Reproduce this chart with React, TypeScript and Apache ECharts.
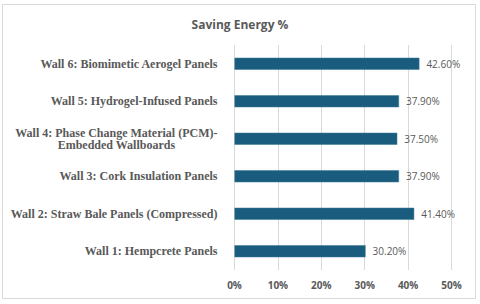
import React, { useEffect, useRef } from "react";
import * as echarts from "echarts";

const categories = [
  "Wall 1: Hempcrete Panels",
  "Wall 2: Straw Bale Panels (Compressed)",
  "Wall 3: Cork Insulation Panels",
  "Wall 4: Phase Change Material (PCM)-\nEmbedded Wallboards",
  "Wall 5: Hydrogel-Infused Panels",
  "Wall 6: Biomimetic Aerogel Panels",
];
const savings = [30.2, 41.4, 37.9, 37.5, 37.9, 42.6];
const chartTitle = "Saving Energy %";

export default function App() {
  const ref = useRef<HTMLDivElement>(null);
  useEffect(() => {
    document.body.style.margin = "0";
    const chart = echarts.init(ref.current!, null, { renderer: "svg" });
    chart.setOption({
      animation: false,
      backgroundColor: "#ffffff",
      title: {
        text: chartTitle,
        left: "center",
        top: 13,
        textStyle: {
          fontFamily: "Open Sans",
          fontSize: 12,
          fontWeight: "bold",
          color: "#595959",
        },
      },
      graphic: [
        {
          type: "rect",
          shape: { x: 2.5, y: 4.5, width: 473, height: 294 },
          style: { fill: "none", stroke: "#d9d9d9", lineWidth: 1 },
          silent: true,
        },
      ],
      grid: { left: 234.5, right: 28.5, top: 45, bottom: 34 },
      xAxis: {
        type: "value",
        min: 0,
        max: 50,
        interval: 10,
        axisLine: { show: false },
        axisTick: { show: false },
        splitLine: { lineStyle: { color: "#d9d9d9", width: 1 } },
        axisLabel: {
          formatter: "{value}%",
          fontFamily: "Open Sans",
          fontSize: 10,
          fontWeight: "bold",
          color: "#595959",
          margin: 10,
        },
      },
      yAxis: {
        type: "category",
        data: categories,
        axisLine: { show: false },
        axisTick: { show: false },
        axisLabel: {
          margin: 17,
          fontFamily: "Liberation Serif",
          fontSize: 12,
          fontWeight: "bold",
          color: "#595959",
          formatter: (v: string) => {
            const parts = v.split("\n");
            if (parts.length === 1) return v;
            return "{a|" + parts[0] + "}\n{b|" + parts[1] + "}";
          },
          rich: {
            a: {
              fontFamily: "Liberation Serif",
              fontSize: 12,
              fontWeight: "bold",
              color: "#595959",
              lineHeight: 12.5,
            },
            b: {
              fontFamily: "Liberation Serif",
              fontSize: 12,
              fontWeight: "bold",
              color: "#595959",
              lineHeight: 12.5,
              align: "center",
            },
          },
        },
      },
      series: [
        {
          type: "bar",
          data: savings,
          barWidth: 12,
          itemStyle: { color: "#1a5c7e", borderColor: "#3d7a98", borderWidth: 0.5 },
          label: {
            show: true,
            position: "right",
            distance: 7,
            formatter: (p: any) => p.value.toFixed(2) + "%",
            fontFamily: "Open Sans",
            fontSize: 10,
            color: "#595959",
          },
        },
      ],
    });
    return () => chart.dispose();
  }, []);
  return <div ref={ref} style={{ width: 480, height: 304 }} />;
}
